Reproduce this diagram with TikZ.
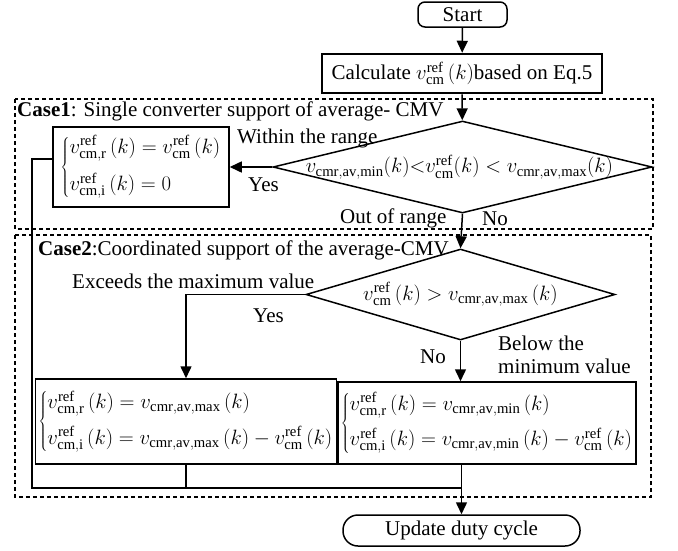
\documentclass[tikz,border=0pt]{standalone}
\usepackage{fontspec}
\setmainfont{Liberation Serif}
\usetikzlibrary{shapes.geometric,arrows.meta,positioning}

\tikzset{
  box/.style={draw, line width=1.5pt, inner sep=3pt, align=left},
  diam/.style={draw, diamond, line width=1.5pt, inner sep=0pt},
  term/.style={draw, line width=1.5pt, rounded corners=#1, inner sep=0pt},
  arr/.style={line width=1.5pt, -{Triangle[length=12pt,width=11pt]}},
  wire/.style={line width=1.5pt},
  casebox/.style={line width=2pt, dash pattern=on 4pt off 3pt},
  lbl/.style={inner sep=0pt, anchor=base west},
}
\newcommand{\vref}[1]{v^{\mathrm{ref}}_{\mathrm{#1}}}
\newcommand{\vcmr}[1]{v_{\mathrm{cmr{,}av{,}#1}}}
\newcommand{\kk}{\,\Bigl(k\Bigr)}

\begin{document}
\begin{tikzpicture}[x=1pt,y=-1pt,font=\fontsize{21}{25}\selectfont]
\useasboundingbox (0,0) rectangle (678,550);

% dashed case regions
\draw[casebox] (15,99) rectangle (653,229);
\draw[casebox] (15,235) rectangle (651,497);
\node[lbl] (case1) at (17,116) {\textbf{Case1}: Single converter support of average- CMV};
\node[lbl] (case2) at (38,255) {\textbf{Case2}:Coordinated support of the average-CMV};

% main column
\node[term=7pt, minimum width=89pt, minimum height=25pt] (start) at (462.5,14.5) {Start};
\node[box, line width=2.5pt, minimum width=280pt, minimum height=39pt, align=center] (calc) at (462,73.5) {Calculate $\vref{cm}\kk$based on Eq.5};
\node[diam, minimum width=379pt, minimum height=92pt] (dec1) at (462.5,167)
  {\makebox[0pt]{\hspace*{-6pt}$\vcmr{min}(k){<}\vref{cm}(k) < \vcmr{max}(k)$}};
\node[diam, minimum width=309pt, minimum height=91pt] (dec2) at (460.5,294.5)
  {\makebox[0pt]{$\vref{cm}\,(k) > \vcmr{max}\,(k)$}};

% result boxes
\node[box, minimum width=176pt, minimum height=80pt] (res1) at (141,167)
  {$\left\{\begin{array}{@{}l@{}}\vref{cm{,}r}\kk=\vref{cm}\kk\\[12pt] \vref{cm{,}i}\kk=0\end{array}\right.$};
\node[box, minimum width=296pt, minimum height=85pt] (res2) at (186,421.5)
  {$\left\{\begin{array}{@{}l@{}}\vref{cm{,}r}\kk=\vcmr{max}\kk\\[10pt] \vref{cm{,}i}\kk=\vcmr{max}\kk-\vref{cm}\kk\end{array}\right.$};
\node[box, minimum width=294pt, minimum height=82pt] (res3) at (487,423)
  {$\left\{\begin{array}{@{}l@{}}\vref{cm{,}r}\kk=\vcmr{min}\kk\\[10pt] \vref{cm{,}i}\kk=\vcmr{min}\kk-\vref{cm}\kk\end{array}\right.$};

\node[term=15pt, minimum width=237pt, minimum height=31pt] (upd) at (461.5,530.5) {Update duty cycle};

% branch labels
\node[lbl] (within) at (237,143) {Within the range};
\node[lbl] (yes1) at (248,191) {Yes};
\node[lbl] (out) at (340,223) {Out of range};
\node[lbl] (no1) at (482,225) {No};
\node[lbl] (exceed) at (72,288) {Exceeds the maximum value};
\node[lbl] (yes2) at (253,322) {Yes};
\node[lbl] (no2) at (420,363) {No};
\node[inner sep=0pt, anchor=north west, align=left, font=\fontsize{21}{23}\selectfont] (below) at (498,335.5) {Below the\\minimum value};

% connectors
\coordinate (bypass) at (32,488);
\coordinate (merge) at (461.5,488);
\draw[arr] (start) -- (calc);
\draw[arr] (calc) -- (dec1);
\draw[arr] (dec1.west) -- (res1.east);
\draw[arr] (dec1.south) -- (dec2.north);
\draw[arr] (dec2.west) -| (res2.north);
\draw[arr] (dec2.south) -- (dec2.south |- res3.north);
\draw[wire] ([yshift=8pt]res1.west) -| (bypass) -- (merge);
\draw[wire] (res2.south) -- (res2.south |- merge);
\draw[arr] (res3.south -| upd.north) -- (upd.north);
\end{tikzpicture}
\end{document}
